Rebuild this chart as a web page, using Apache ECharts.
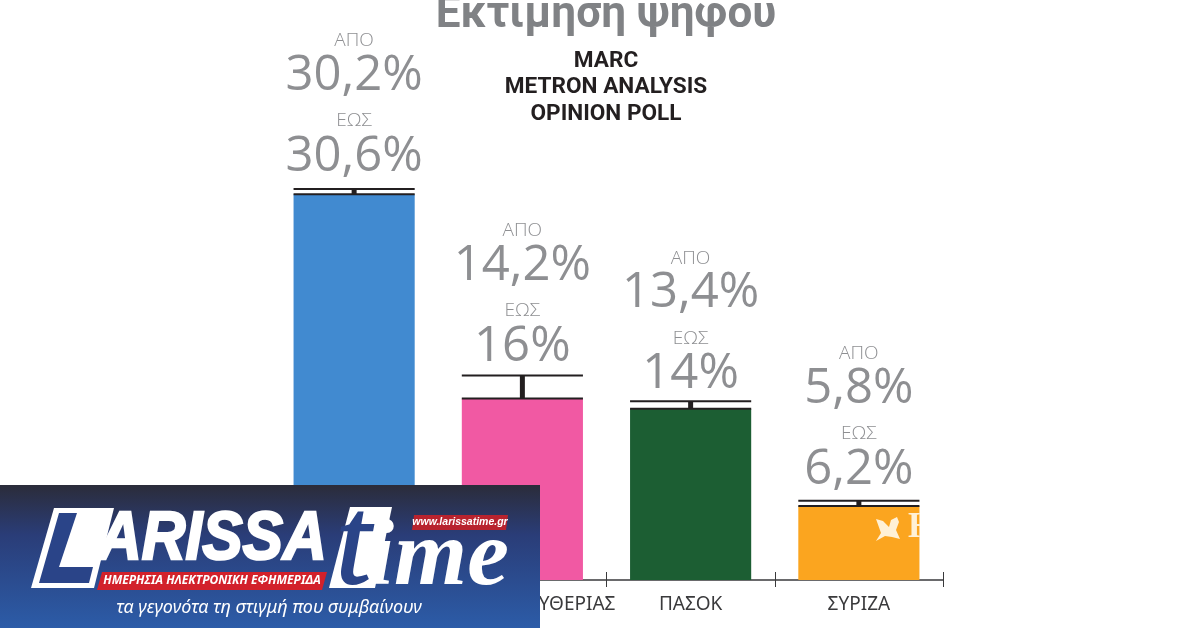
<!DOCTYPE html>
<html>
<head>
<meta charset="utf-8">
<title>Εκτιμηση ψηφου</title>
<style>
  html, body { margin: 0; padding: 0; background: #fff; }
  #chart { width: 1200px; height: 630px; }
</style>
<script src="https://cdn.jsdelivr.net/npm/echarts@6/dist/echarts.min.js"></script>
</head>
<body>
<div id="chart"></div>
<script>
const categories = ['ΝΔ', 'ΠΛΕΥΣΗ ΕΛΕΥΘΕΡΙΑΣ', 'ΠΑΣΟΚ', 'ΣΥΡΙΖΑ']
const lowValues = [30.2, 14.2, 13.4, 5.8]
const highValues = [30.6, 16, 14, 6.2]
const barColors = ['#418ad0', '#f159a3', '#1c5e33', '#fba51f']

const GRAY = '#8e8f92'
const DARK = '#231f20'
const AXIS = '#3a3a3c'
const VALUE_FONT = '"Open Sans"'
// the text blocks do not sit at quite the same gap above each bar
const labelNudge = [1, 4, 6, 2]

const fmt = v => String(v).replace('.', ',') + '%'

const chart = echarts.init(document.getElementById('chart'))

// the four stacked lines over each bar, measured up from the top of the range
function rangeLabels(x, y, low, high) {
  const line = (text, dy, font) => ({
    type: 'text',
    x: x,
    y: y - dy,
    style: {
      text: text,
      fill: GRAY,
      font: font + ' ' + VALUE_FONT,
      textAlign: 'center',
      textVerticalAlign: 'middle'
    }
  })
  return [
    line('ΑΠΟ', 149, '300 19px'),
    line(fmt(low), 114, '49px'),
    line('ΕΩΣ', 69, '300 19px'),
    line(fmt(high), 33, '49px')
  ]
}

function renderRange(params, api) {
  const i = api.value(0)
  const low = api.coord([i, api.value(1)])
  const high = api.coord([i, api.value(2)])
  const half = api.size([1, 0])[0] * 0.36
  const x = low[0]
  return {
    type: 'group',
    children: [
      { type: 'line', shape: { x1: x - half, y1: high[1], x2: x + half, y2: high[1] }, style: { stroke: DARK, lineWidth: 2 } },
      { type: 'line', shape: { x1: x - half, y1: low[1], x2: x + half, y2: low[1] }, style: { stroke: DARK, lineWidth: 2 } },
      { type: 'line', shape: { x1: x, y1: high[1], x2: x, y2: low[1] }, style: { stroke: DARK, lineWidth: 5 } }
    ].concat(rangeLabels(x, high[1] + labelNudge[i], lowValues[i], highValues[i]))
  }
}

// newspaper banner that sits over the bottom left of the chart
const banner = [
  { type: 'rect', shape: { x: 0, y: 485, width: 540, height: 143 },
    style: { fill: new echarts.graphic.LinearGradient(0, 0, 0, 1, [
      { offset: 0, color: '#2b2c3a' },
      { offset: 0.35, color: '#2a3d78' },
      { offset: 1, color: '#2c5ca8' }
    ]) } },
  { type: 'polygon', shape: { points: [[54, 508], [114, 508], [94, 588], [31, 588]] }, style: { fill: '#fff' } },
  { type: 'polygon', shape: { points: [[59, 513], [77, 513], [59, 567], [93, 567], [89, 583], [39, 583]] }, style: { fill: '#2a4488' } },
  { type: 'text', x: 98, y: 574, scaleX: 0.89, style: { text: 'ARISSA', fill: '#fff', stroke: '#fff', lineWidth: 2.5, font: 'italic bold 68px "Liberation Sans"', textAlign: 'left', textVerticalAlign: 'bottom' } },
  { type: 'polygon', shape: { points: [[102, 572], [327, 572], [322, 590], [97, 590]] }, style: { fill: '#d2212b' } },
  { type: 'text', x: 212, y: 581, style: { text: 'ΗΜΕΡΗΣΙΑ ΗΛΕΚΤΡΟΝΙΚΗ ΕΦΗΜΕΡΙΔΑ', fill: '#fff', font: 'italic bold 12px "Noto Sans"', textAlign: 'center', textVerticalAlign: 'middle' } },
  { type: 'polygon', shape: { points: [[350, 507], [392, 507], [375, 588], [329, 588]] }, style: { fill: '#fff' } },
  { type: 'text', x: 336, y: 613, style: { text: 't', fill: '#2a4488', stroke: '#2a4488', lineWidth: 2, font: 'italic 125px "Liberation Serif"', textAlign: 'left', textVerticalAlign: 'bottom' } },
  { type: 'text', x: 368, y: 607, style: { text: 'ime', fill: '#fff', font: 'italic bold 94px "Liberation Serif"', textAlign: 'left', textVerticalAlign: 'bottom' } },
  { type: 'polygon', shape: { points: [[414, 515], [508, 515], [506, 530], [412, 530]] }, style: { fill: '#b8232e' } },
  { type: 'text', x: 460, y: 522, style: { text: 'www.larissatime.gr', fill: '#fff', font: 'italic bold 10.5px "Liberation Sans"', textAlign: 'center', textVerticalAlign: 'middle' } },
  { type: 'text', x: 269, y: 608, style: { text: 'τα γεγονότα τη στιγμή που συμβαίνουν', fill: '#fff', font: 'italic 18px "Noto Sans"', textAlign: 'center', textVerticalAlign: 'middle' } }
]

// printer's mark on the orange bar, cut off at the bar edge
const watermark = [
  { type: 'polygon', shape: { points: [[876, 519], [883, 521], [889, 527], [891, 520], [897, 517], [899, 522], [896, 530], [900, 539], [892, 537], [885, 536], [876, 541], [881, 533]] }, style: { fill: '#fff1d6' } },
  { type: 'text', x: 908, y: 528, style: { text: 'Η', fill: '#fff1d6', font: 'bold 35px "Liberation Serif"', textAlign: 'left', textVerticalAlign: 'middle' } },
  { type: 'rect', shape: { x: 920, y: 510, width: 22, height: 36 }, style: { fill: '#fff' } }
]

chart.setOption({
  animation: false,
  backgroundColor: '#fff',
  title: [
    {
      text: 'Εκτιμηση ψηφου',
      left: 601,
      top: -11,
      textAlign: 'center',
      textStyle: { color: '#808285', fontFamily: 'Roboto', fontWeight: 'bold', fontSize: 44 }
    },
    {
      text: 'MARC\nMETRON ANALYSIS\nOPINION POLL',
      left: 601,
      top: 43,
      textAlign: 'center',
      textStyle: { color: DARK, fontFamily: 'Roboto', fontWeight: 'bold', fontSize: 22.6, lineHeight: 26.5 }
    }
  ],
  grid: { left: 270, top: 69, width: 673, height: 511, containLabel: false },
  xAxis: [
    {
      type: 'category',
      data: categories,
      axisLine: { lineStyle: { color: AXIS, width: 1.5 } },
      axisTick: { show: true, alignWithLabel: false, length: 7, lineStyle: { color: AXIS } },
      axisLabel: { color: AXIS, fontFamily: 'Noto Sans', fontSize: 19, margin: 15, interval: 0 }
    },
    {
      type: 'category',
      position: 'bottom',
      data: categories,
      axisLine: { show: false },
      axisTick: { show: true, inside: true, length: 8, lineStyle: { color: AXIS } },
      axisLabel: { show: false }
    }
  ],
  yAxis: { type: 'value', min: 0, max: 40, show: false },
  series: [
    {
      type: 'bar',
      barWidth: '72%',
      data: lowValues.map((v, i) => ({ value: v, itemStyle: { color: barColors[i] } }))
    },
    {
      type: 'custom',
      renderItem: renderRange,
      encode: { x: 0, y: [1, 2] },
      clip: false,
      z: 5,
      data: lowValues.map((v, i) => [i, v, highValues[i]])
    }
  ],
  graphic: { elements: watermark.concat(banner).map(el => Object.assign({ z: 100 }, el)) }
})
</script>
</body>
</html>
